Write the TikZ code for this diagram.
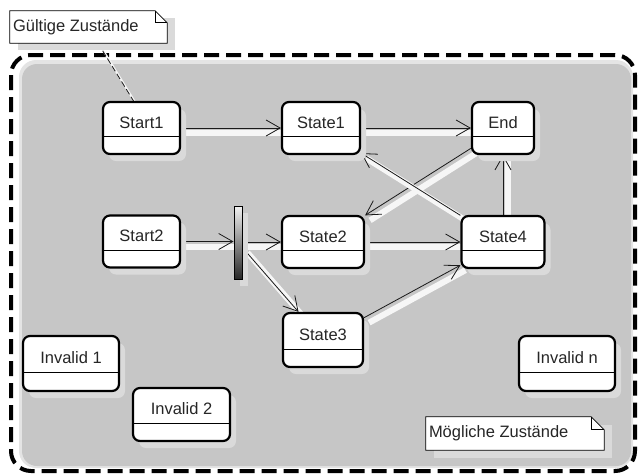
\documentclass[tikz,border=0pt]{standalone}
\usepackage{fontspec}
\setmainfont{Liberation Sans}
\usetikzlibrary{arrows.meta,shadows,calc,backgrounds}
\definecolor{pkggray}{HTML}{C6C6C6}
\definecolor{rimgray}{HTML}{E4E4E4}
\definecolor{shgray}{HTML}{DADADA}
\definecolor{wireshadow}{HTML}{F6F6F6}
\begin{document}
\begin{tikzpicture}[x=1pt,y=-1pt,
  font=\fontsize{16.5}{19}\selectfont,
  state/.style={draw=black, line width=2.2pt, rounded corners=7pt, fill=white,
    minimum height=52pt, inner sep=0pt, text height=12pt, text depth=12pt, text=black!85,
    general shadow={fill=shgray, shadow xshift=6pt, shadow yshift=-7pt},
    path picture={\draw[line width=1pt]
      ($(path picture bounding box.south west)!0.33!(path picture bounding box.north west)$) --
      ($(path picture bounding box.south east)!0.33!(path picture bounding box.north east)$);}},
  forkbar/.style={draw=black, line width=1pt, top color=gray!10, bottom color=black!85,
    minimum width=8pt, minimum height=73pt, inner sep=0pt,
    general shadow={fill=shgray, shadow xshift=6pt, shadow yshift=-7pt}},
  notebox/.style={draw=none, inner sep=0pt},
  noteshape/.style={draw=black, line width=0.8pt, fill=white},
  noteshadow/.style={fill=shgray},
  notetext/.style={anchor=west, inner sep=0pt, text=black!85},
  wire/.style={line width=0.8pt, draw=black!90,
    -{Straight Barb[length=14pt,width=16pt,line width=0.8pt]},
    preaction={draw=wireshadow, line width=6pt, -, transform canvas={shift={(5pt,-5pt)}}}},
  notelink/.style={line width=0.8pt, draw=black!90, dash pattern=on 6pt off 3pt,
    preaction={draw=wireshadow, line width=2pt, solid, transform canvas={shift={(2pt,-2pt)}}}},
  pkgborder/.style={line width=4pt, dash pattern=on 15pt off 7pt, rounded corners=20pt}
]
\useasboundingbox (0,0) rectangle (640,475);

% states
\node[state, minimum width=77pt] (Start1) at (141.5,128) {Start1};
\node[state, minimum width=78pt] (State1) at (321,128) {State1};
\node[state, minimum width=62pt] (End) at (503,128) {End};
\node[state, minimum width=77pt] (Start2) at (141.5,241.5) {Start2};
\node[forkbar] (fork) at (238,242.5) {};
\node[state, minimum width=82pt] (State2) at (323,242) {State2};
\node[state, minimum width=83pt] (State4) at (503,242) {State4};
\node[state, minimum width=80pt, minimum height=54pt] (State3) at (323,340) {State3};
\node[state, minimum width=96pt, minimum height=55pt] (Inv1) at (71,363.5) {Invalid 1};
\node[state, minimum width=97pt, minimum height=53pt] (Inv2) at (181.5,414.5) {Invalid 2};
\node[state, minimum width=96pt, minimum height=55pt] (Invn) at (567,363.5) {Invalid n};

% note 2 (Mögliche Zustände)
\node[notebox, minimum width=178pt, minimum height=33pt] (note2) at (515,433.5) {};
\fill[noteshadow] ([shift={(8pt,-8pt)}]note2.north west) rectangle ([shift={(8pt,-8pt)}]note2.south east);
\draw[noteshape] (note2.north west) -- ([xshift=-13pt]note2.north east) -- ([yshift=-13pt]note2.north east)
  -- (note2.south east) -- (note2.south west) -- cycle;
\draw[line width=0.8pt] ([xshift=-13pt]note2.north east) |- ([yshift=-13pt]note2.north east);
\node[notetext] (note2text) at ([xshift=3pt]note2.west) {Mögliche Zustände};

% note 1 (Gültige Zustände)
\node[notebox, minimum width=157pt, minimum height=32pt] (note1) at (88.5,27) {};
\fill[noteshadow] ([shift={(8pt,-7pt)}]note1.north west) rectangle ([shift={(8pt,-7pt)}]note1.south east);
\draw[noteshape] (note1.north west) -- ([xshift=-12pt]note1.north east) -- ([yshift=-12pt]note1.north east)
  -- (note1.south east) -- (note1.south west) -- cycle;
\draw[line width=0.8pt] ([xshift=-12pt]note1.north east) |- ([yshift=-12pt]note1.north east);
\node[notetext] (note1text) at ([xshift=3pt]note1.west) {Gültige Zustände};

\begin{scope}[on background layer]
  % package area
  \fill[rimgray, rounded corners=17pt] (19,60) rectangle (633,468);
  \fill[pkggray, rounded corners=15pt] (22,64) rectangle (631,466);
  \draw[pkgborder] (11,55) rectangle (635,471);
  % connectors
  \draw[notelink] ([xshift=9.5pt]note1.south) -- ([xshift=-8pt]Start1.north);
  \draw[wire] (Start1) -- (State1);
  \draw[wire] (State1) -- (End);
  \draw[wire] (Start2) -- (Start2 -| fork.west);
  \draw[wire] (State2 -| fork.east) -- (State2);
  \draw[wire] (fork) -- (State3);
  \draw[wire] (State2) -- (State4);
  \draw[wire] (State3) -- (State4);
  \draw[wire] (End) -- (State2);
  \draw[wire] (State4) -- (State1);
  \draw[wire] (State4) -- (End);
\end{scope}
\end{tikzpicture}
\end{document}
